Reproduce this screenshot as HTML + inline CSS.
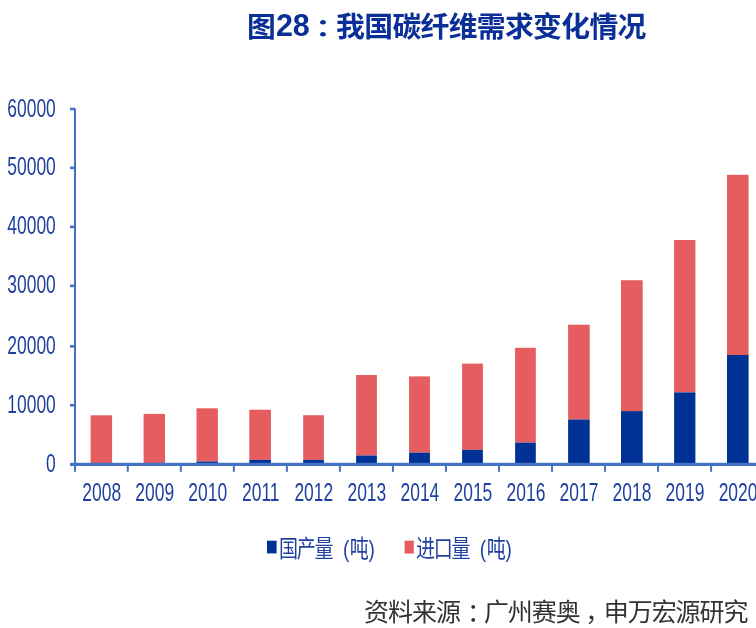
<!DOCTYPE html>
<html lang="zh-CN">
<head>
<meta charset="utf-8">
<title>图28：我国碳纤维需求变化情况</title>
<style>
html,body{margin:0;padding:0;background:#fff;}
body{width:756px;height:628px;overflow:hidden;position:relative;}
svg{position:absolute;left:0;top:0;display:block;}
.title{font-family:"Liberation Sans","Noto Sans CJK SC",sans-serif;font-weight:700;font-size:28px;fill:#0a2f96;}
.num{font-family:"Liberation Sans",sans-serif;font-size:25.5px;fill:#1f409f;}
.leg{font-family:"Liberation Sans","Noto Sans CJK SC",sans-serif;font-size:23.4px;fill:#1f409f;font-weight:400;}
.src{font-family:"Liberation Sans","Noto Sans CJK SC",sans-serif;font-size:25px;fill:#333;}
</style>
</head>
<body>
<svg width="756" height="628" viewBox="0 0 756 628">
<rect x="0" y="0" width="756" height="628" fill="#ffffff"/>
<g><text class="title" style="font-size:28.8px" x="246.9" y="36.7">图</text><text class="title" style="font-size:30.5px" transform="translate(275.9,35.9) scale(1,1.03)">28</text><text class="title" style="font-size:31px" transform="translate(315.2,35.5) scale(1,0.78)">：</text><text class="title" style="font-size:28.8px" x="336.1" y="36.7" letter-spacing="-0.65">我国碳纤维需求变化情况</text></g>
<rect x="90.60" y="415.30" width="21.50" height="48.20" fill="#e65d60"/>
<rect x="143.60" y="413.90" width="21.45" height="49.60" fill="#e65d60"/>
<rect x="196.50" y="408.30" width="21.40" height="53.20" fill="#e65d60"/>
<rect x="196.50" y="461.50" width="21.40" height="2.00" fill="#003296"/>
<rect x="249.30" y="409.70" width="21.65" height="50.20" fill="#e65d60"/>
<rect x="249.30" y="459.90" width="21.65" height="3.60" fill="#003296"/>
<rect x="303.20" y="415.20" width="20.70" height="44.70" fill="#e65d60"/>
<rect x="303.20" y="459.90" width="20.70" height="3.60" fill="#003296"/>
<rect x="356.10" y="375.00" width="20.80" height="80.50" fill="#e65d60"/>
<rect x="356.10" y="455.50" width="20.80" height="8.00" fill="#003296"/>
<rect x="409.05" y="376.40" width="20.90" height="76.20" fill="#e65d60"/>
<rect x="409.05" y="452.60" width="20.90" height="10.90" fill="#003296"/>
<rect x="462.10" y="363.60" width="20.80" height="86.30" fill="#e65d60"/>
<rect x="462.10" y="449.90" width="20.80" height="13.60" fill="#003296"/>
<rect x="515.10" y="347.80" width="20.70" height="94.80" fill="#e65d60"/>
<rect x="515.10" y="442.60" width="20.70" height="20.90" fill="#003296"/>
<rect x="568.10" y="324.70" width="21.60" height="94.80" fill="#e65d60"/>
<rect x="568.10" y="419.50" width="21.60" height="44.00" fill="#003296"/>
<rect x="621.00" y="280.20" width="21.70" height="130.90" fill="#e65d60"/>
<rect x="621.00" y="411.10" width="21.70" height="52.40" fill="#003296"/>
<rect x="674.10" y="240.00" width="21.30" height="152.40" fill="#e65d60"/>
<rect x="674.10" y="392.40" width="21.30" height="71.10" fill="#003296"/>
<rect x="727.00" y="174.80" width="21.60" height="180.20" fill="#e65d60"/>
<rect x="727.00" y="355.00" width="21.60" height="108.50" fill="#003296"/>
<rect x="74" y="108.6" width="2" height="363.2" fill="#4472c4"/>
<rect x="70" y="462.8" width="686" height="3.2" fill="#4472c4"/>
<rect x="70" y="403.90" width="5" height="2.6" fill="#4472c4"/>
<rect x="70" y="345.00" width="5" height="2.6" fill="#4472c4"/>
<rect x="70" y="284.60" width="5" height="2.6" fill="#4472c4"/>
<rect x="70" y="225.60" width="5" height="2.6" fill="#4472c4"/>
<rect x="70" y="166.60" width="5" height="2.6" fill="#4472c4"/>
<rect x="70" y="107.70" width="5" height="2.6" fill="#4472c4"/>
<rect x="126.78" y="464" width="2" height="7.8" fill="#4472c4"/>
<rect x="179.81" y="464" width="2" height="7.8" fill="#4472c4"/>
<rect x="232.84" y="464" width="2" height="7.8" fill="#4472c4"/>
<rect x="285.87" y="464" width="2" height="7.8" fill="#4472c4"/>
<rect x="338.90" y="464" width="2" height="7.8" fill="#4472c4"/>
<rect x="391.93" y="464" width="2" height="7.8" fill="#4472c4"/>
<rect x="444.96" y="464" width="2" height="7.8" fill="#4472c4"/>
<rect x="497.99" y="464" width="2" height="7.8" fill="#4472c4"/>
<rect x="551.02" y="464" width="2" height="7.8" fill="#4472c4"/>
<rect x="604.05" y="464" width="2" height="7.8" fill="#4472c4"/>
<rect x="657.08" y="464" width="2" height="7.8" fill="#4472c4"/>
<rect x="710.11" y="464" width="2" height="7.8" fill="#4472c4"/>
<text class="num" text-anchor="end" transform="translate(55.8,471.80) scale(0.685,1)">0</text>
<text class="num" text-anchor="end" transform="translate(55.8,412.70) scale(0.685,1)">10000</text>
<text class="num" text-anchor="end" transform="translate(55.8,353.80) scale(0.685,1)">20000</text>
<text class="num" text-anchor="end" transform="translate(55.8,293.40) scale(0.685,1)">30000</text>
<text class="num" text-anchor="end" transform="translate(55.8,234.40) scale(0.685,1)">40000</text>
<text class="num" text-anchor="end" transform="translate(55.8,175.40) scale(0.685,1)">50000</text>
<text class="num" text-anchor="end" transform="translate(55.8,116.50) scale(0.685,1)">60000</text>
<text class="num" text-anchor="middle" transform="translate(101.70,500.5) scale(0.685,1)">2008</text>
<text class="num" text-anchor="middle" transform="translate(154.73,500.5) scale(0.685,1)">2009</text>
<text class="num" text-anchor="middle" transform="translate(207.76,500.5) scale(0.685,1)">2010</text>
<text class="num" text-anchor="middle" transform="translate(260.79,500.5) scale(0.685,1)">2011</text>
<text class="num" text-anchor="middle" transform="translate(313.82,500.5) scale(0.685,1)">2012</text>
<text class="num" text-anchor="middle" transform="translate(366.85,500.5) scale(0.685,1)">2013</text>
<text class="num" text-anchor="middle" transform="translate(419.88,500.5) scale(0.685,1)">2014</text>
<text class="num" text-anchor="middle" transform="translate(472.91,500.5) scale(0.685,1)">2015</text>
<text class="num" text-anchor="middle" transform="translate(525.94,500.5) scale(0.685,1)">2016</text>
<text class="num" text-anchor="middle" transform="translate(578.97,500.5) scale(0.685,1)">2017</text>
<text class="num" text-anchor="middle" transform="translate(632.00,500.5) scale(0.685,1)">2018</text>
<text class="num" text-anchor="middle" transform="translate(685.03,500.5) scale(0.685,1)">2019</text>
<text class="num" text-anchor="middle" transform="translate(738.06,500.5) scale(0.685,1)">2020</text>
<rect x="267" y="540.7" width="9.6" height="12.7" fill="#003296"/>
<text class="leg" transform="translate(279,557) scale(0.815,1)"><tspan letter-spacing="-1.58">国产量</tspan><tspan dx="6.5"> (</tspan><tspan dx="0.6">吨</tspan><tspan dx="-0.4">)</tspan></text>
<rect x="404.6" y="540.7" width="9.2" height="12.9" fill="#e65d60"/>
<text class="leg" transform="translate(415.9,557) scale(0.815,1)"><tspan letter-spacing="-1.58">进口量</tspan><tspan dx="6.5"> (</tspan><tspan dx="0.6">吨</tspan><tspan dx="-0.4">)</tspan></text>
<text class="src" x="364.1" y="620.7" letter-spacing="-1.04">资料来源<tspan dx="7">：</tspan><tspan dx="-7">广州赛奥</tspan><tspan dx="5.5">，</tspan><tspan dx="-5.5">申万宏源研究</tspan></text>
</svg>
</body>
</html>
